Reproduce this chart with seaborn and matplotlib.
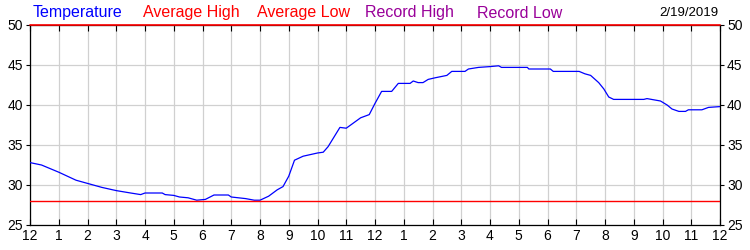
import matplotlib
matplotlib.use("Agg")
import matplotlib.pyplot as plt
import seaborn as sns
import pandas as pd

# ---- data ----
hours = [0.0, 0.4, 1.0, 1.6, 2.0, 2.5, 3.0, 3.5, 3.85, 4.0, 4.6, 4.7, 5.0, 5.2, 5.5, 5.8,
         6.1, 6.4, 6.9, 7.0, 7.5, 7.8, 8.0, 8.3, 8.6, 8.8, 9.0, 9.2, 9.5, 10.0, 10.2, 10.37,
         10.78, 11.0, 11.5, 11.8, 12.0, 12.23, 12.58, 12.81, 13.22, 13.33, 13.5, 13.67, 13.85,
         14.09, 14.5, 14.67, 15.13, 15.25, 15.6, 16.0, 16.3, 16.4, 17.3, 17.35, 18.1, 18.2,
         19.1, 19.3, 19.5, 19.78, 19.96, 20.13, 20.3, 21.35, 21.46, 21.93, 22.16, 22.33, 22.57,
         22.8, 22.9, 23.37, 23.6, 24.0]
temps = [32.8, 32.5, 31.6, 30.6, 30.2, 29.7, 29.3, 29.0, 28.8, 29.0, 29.0, 28.8, 28.7, 28.5,
         28.4, 28.1, 28.2, 28.75, 28.75, 28.5, 28.3, 28.1, 28.1, 28.6, 29.4, 29.8, 31.1, 33.1,
         33.6, 34.0, 34.1, 34.8, 37.2, 37.1, 38.4, 38.8, 40.2, 41.7, 41.7, 42.7, 42.7, 43.0,
         42.8, 42.8, 43.2, 43.4, 43.7, 44.2, 44.2, 44.5, 44.7, 44.8, 44.9, 44.7, 44.7, 44.5,
         44.5, 44.2, 44.2, 43.9, 43.7, 42.8, 42.0, 41.0, 40.7, 40.7, 40.8, 40.5, 40.0, 39.5,
         39.2, 39.2, 39.4, 39.4, 39.7, 39.8]
avg_high = 50.0
avg_low = 28.0
span = [0, 24]
x_labels = ["12", "1", "2", "3", "4", "5", "6", "7", "8", "9", "10", "11",
            "12", "1", "2", "3", "4", "5", "6", "7", "8", "9", "10", "11", "12"]
y_ticks = [25, 30, 35, 40, 45, 50]
legend_items = ["Temperature", "Average High", "Average Low", "Record High", "Record Low"]
legend_colors = ["#0000FF", "#FF0000", "#FF0000", "#990099", "#990099"]
legend_x = [33, 143, 257, 365, 477]
date_text = "2/19/2019"

sns.set_style("white")
plt.rcParams["font.family"] = ["Liberation Sans", "DejaVu Sans"]

fig = plt.figure(figsize=(7.5, 2.5), dpi=100)
ax = fig.add_axes([30 / 750, 25 / 250, 690 / 750, 200 / 250])

df = pd.DataFrame({"hour": hours, "temp": temps})
sns.lineplot(data=df, x="hour", y="temp", ax=ax, color="#0000FF", linewidth=0.9, zorder=3)
sns.lineplot(x=span, y=[avg_low, avg_low], ax=ax, color="#FF0000", linewidth=1.0, zorder=3)
sns.lineplot(x=span, y=[avg_high, avg_high], ax=ax, color="#FF0000", linewidth=1.2,
             zorder=5, clip_on=False)

ax.set_xlim(0, 24)
ax.set_ylim(25, 50)
ax.set_xticks(range(25))
ax.set_xticklabels(x_labels)
ax.set_yticks(y_ticks)
ax.set_xlabel("")
ax.set_ylabel("")
ax.grid(True, color="#D0D0D0", linewidth=0.9)
ax.set_axisbelow(True)

for s in ["left", "right", "bottom", "top"]:
    ax.spines[s].set_visible(True)
    ax.spines[s].set_color("black")
    ax.spines[s].set_linewidth(0.9)

ax.tick_params(axis="x", which="both", direction="in", length=4, width=0.8,
               top=True, bottom=True, labelsize=10, pad=3, colors="black")
ax.tick_params(axis="y", which="both", direction="out", length=3, width=0.8,
               left=True, right=True, labelleft=True, labelright=True,
               labelsize=10, pad=2, colors="black")

for txt, col, xp in zip(legend_items, legend_colors, legend_x):
    fig.text(xp / 750, 1 - 13 / 250, txt, color=col, fontsize=11.5, va="center", ha="left")
fig.text(718 / 750, 1 - 13 / 250, date_text, color="black", fontsize=9.5, va="center", ha="right")

fig.savefig("out.png", dpi=100)
